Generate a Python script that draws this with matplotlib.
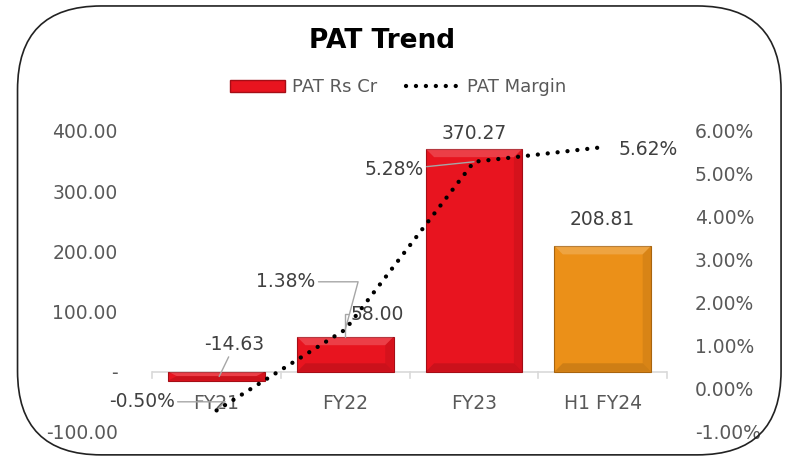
import matplotlib
matplotlib.use("Agg")
import matplotlib.pyplot as plt
from matplotlib.patches import FancyBboxPatch, Patch, Polygon
from matplotlib.lines import Line2D
from matplotlib.ticker import FuncFormatter

categories = ["FY21", "FY22", "FY23", "H1 FY24"]
pat = [-14.63, 58.00, 370.27, 208.81]
margin = [-0.50, 1.38, 5.28, 5.62]
bar_colors = ["#E8141F", "#E8141F", "#E8141F", "#EB9018"]
edge_colors = ["#A50E16", "#A50E16", "#A50E16", "#A8640E"]

plt.rcParams['font.family'] = ['DejaVu Sans']
grey = "#595959"
dark = "#404040"
lead = "#a6a6a6"
dotted = (0, (0.01, 2.3))

fig = plt.figure(figsize=(7.97, 4.59), dpi=100)
fig.patch.set_facecolor("white")

# rounded frame round the whole chart
frame = FancyBboxPatch((0.022, 0.009), 0.958, 0.978,
                       boxstyle="round,pad=0,rounding_size=0.105",
                       transform=fig.transFigure, fill=False,
                       edgecolor="#222222", linewidth=1.2, mutation_aspect=797/459)
fig.patches.append(frame)

ax = fig.add_axes([0.191, 0.059, 0.646, 0.656])
x = list(range(len(categories)))
w = 0.75
ax.bar(x, pat, width=w, color=bar_colors, edgecolor=edge_colors, linewidth=0.8, zorder=2)

# bevel look: lighter top band, darker bottom and right bands
for xi, v in zip(x, pat):
    lo, hi = min(0, v), max(0, v)
    bx = 0.065
    by = min(14, (hi - lo) / 2)
    l, r = xi - w / 2, xi + w / 2
    ax.add_patch(Polygon([(l, hi), (r, hi), (r - bx, hi - by), (l + bx, hi - by)],
                         closed=True, facecolor="white", alpha=0.18, lw=0, zorder=3))
    ax.add_patch(Polygon([(l, lo), (r, lo), (r - bx, lo + by), (l + bx, lo + by)],
                         closed=True, facecolor="black", alpha=0.12, lw=0, zorder=3))
    ax.add_patch(Polygon([(r, lo), (r, hi), (r - bx, hi - by), (r - bx, lo + by)],
                         closed=True, facecolor="black", alpha=0.08, lw=0, zorder=3))

ax.set_xlim(-0.5, 3.5)
ax.set_ylim(-100, 400)
ax.set_yticks([-100, 0, 100, 200, 300, 400])
ax.yaxis.set_major_formatter(FuncFormatter(lambda v, p: "-" if v == 0 else f"{v:.2f}"))
ax.tick_params(axis="y", length=0, labelsize=13.5, colors=grey, pad=25)
for s in ax.spines.values():
    s.set_visible(False)
ax.axhline(0, color="#d9d9d9", linewidth=1.2, zorder=1)
for b in [-0.5, 0.5, 1.5, 2.5, 3.5]:
    ax.plot([b, b], [0, -10], color="#d9d9d9", linewidth=1.2, clip_on=False, zorder=1)
ax.set_xticks([])
for i, c in enumerate(categories):
    ax.text(i, -53, c, ha="center", va="center", fontsize=13.5, color=grey)

# bar value labels
ax.annotate("-14.63", xy=(0.02, -8), xytext=(0.14, 45), ha="center", va="center",
            fontsize=13.5, color=dark,
            arrowprops=dict(arrowstyle="-", color=lead, lw=1, shrinkA=0, shrinkB=0))
ax.annotate("58.00", xy=(1.0, 58), xytext=(1.25, 95), ha="center", va="center",
            fontsize=13.5, color=dark,
            arrowprops=dict(arrowstyle="-", color=lead, lw=1, shrinkA=0, shrinkB=0,
                            connectionstyle="angle,angleA=0,angleB=90,rad=0"))
ax.text(2, 395, "370.27", ha="center", va="center", fontsize=13.5, color=dark)
ax.text(3, 252, "208.81", ha="center", va="center", fontsize=13.5, color=dark)

ax2 = ax.twinx()
ax2.plot(x, margin, color="black", linestyle=dotted, linewidth=3.1,
         dash_capstyle="round", zorder=4)
ax2.set_ylim(-1, 6)
ax2.set_yticks([-1, 0, 1, 2, 3, 4, 5, 6])
ax2.yaxis.set_major_formatter(FuncFormatter(lambda v, p: f"{v:.2f}%"))
ax2.tick_params(axis="y", length=0, labelsize=13.5, colors=grey, pad=20)
for s in ax2.spines.values():
    s.set_visible(False)

lab_kw = dict(fontsize=13.5, color=dark, va="center")
ax2.annotate("-0.50%", xy=(0, -0.5), xytext=(-0.58, -0.3), ha="center",
             arrowprops=dict(arrowstyle="-", color=lead, lw=1, shrinkA=0, shrinkB=0,
                             connectionstyle="angle,angleA=0,angleB=45,rad=0"), **lab_kw)
ax2.annotate("1.38%", xy=(1.0, 1.38), xytext=(0.54, 2.49), ha="center",
             arrowprops=dict(arrowstyle="-", color=lead, lw=1, shrinkA=0, shrinkB=0,
                             connectionstyle="angle,angleA=0,angleB=75,rad=0"), **lab_kw)
ax2.annotate("5.28%", xy=(2.0, 5.28), xytext=(1.38, 5.09), ha="center",
             arrowprops=dict(arrowstyle="-", color=lead, lw=1, shrinkA=0, shrinkB=0),
             **lab_kw)
ax2.text(3.35, 5.56, "5.62%", ha="center", **lab_kw)

fig.text(0.479, 0.91, "PAT Trend", ha="center", va="center", fontsize=19,
         fontweight="bold", color="black")

handles = [Patch(facecolor="#E8141F", edgecolor="#A50E16"),
           Line2D([0], [0], color="black", linestyle=dotted, linewidth=3.1,
                  dash_capstyle="round")]
fig.legend(handles, ["PAT Rs Cr", "PAT Margin"], loc="center", bbox_to_anchor=(0.5, 0.81),
           ncol=2, frameon=False, fontsize=13, labelcolor=grey, handlelength=3.0,
           handletextpad=0.4, columnspacing=1.6)

fig.savefig("out.png", dpi=100)
